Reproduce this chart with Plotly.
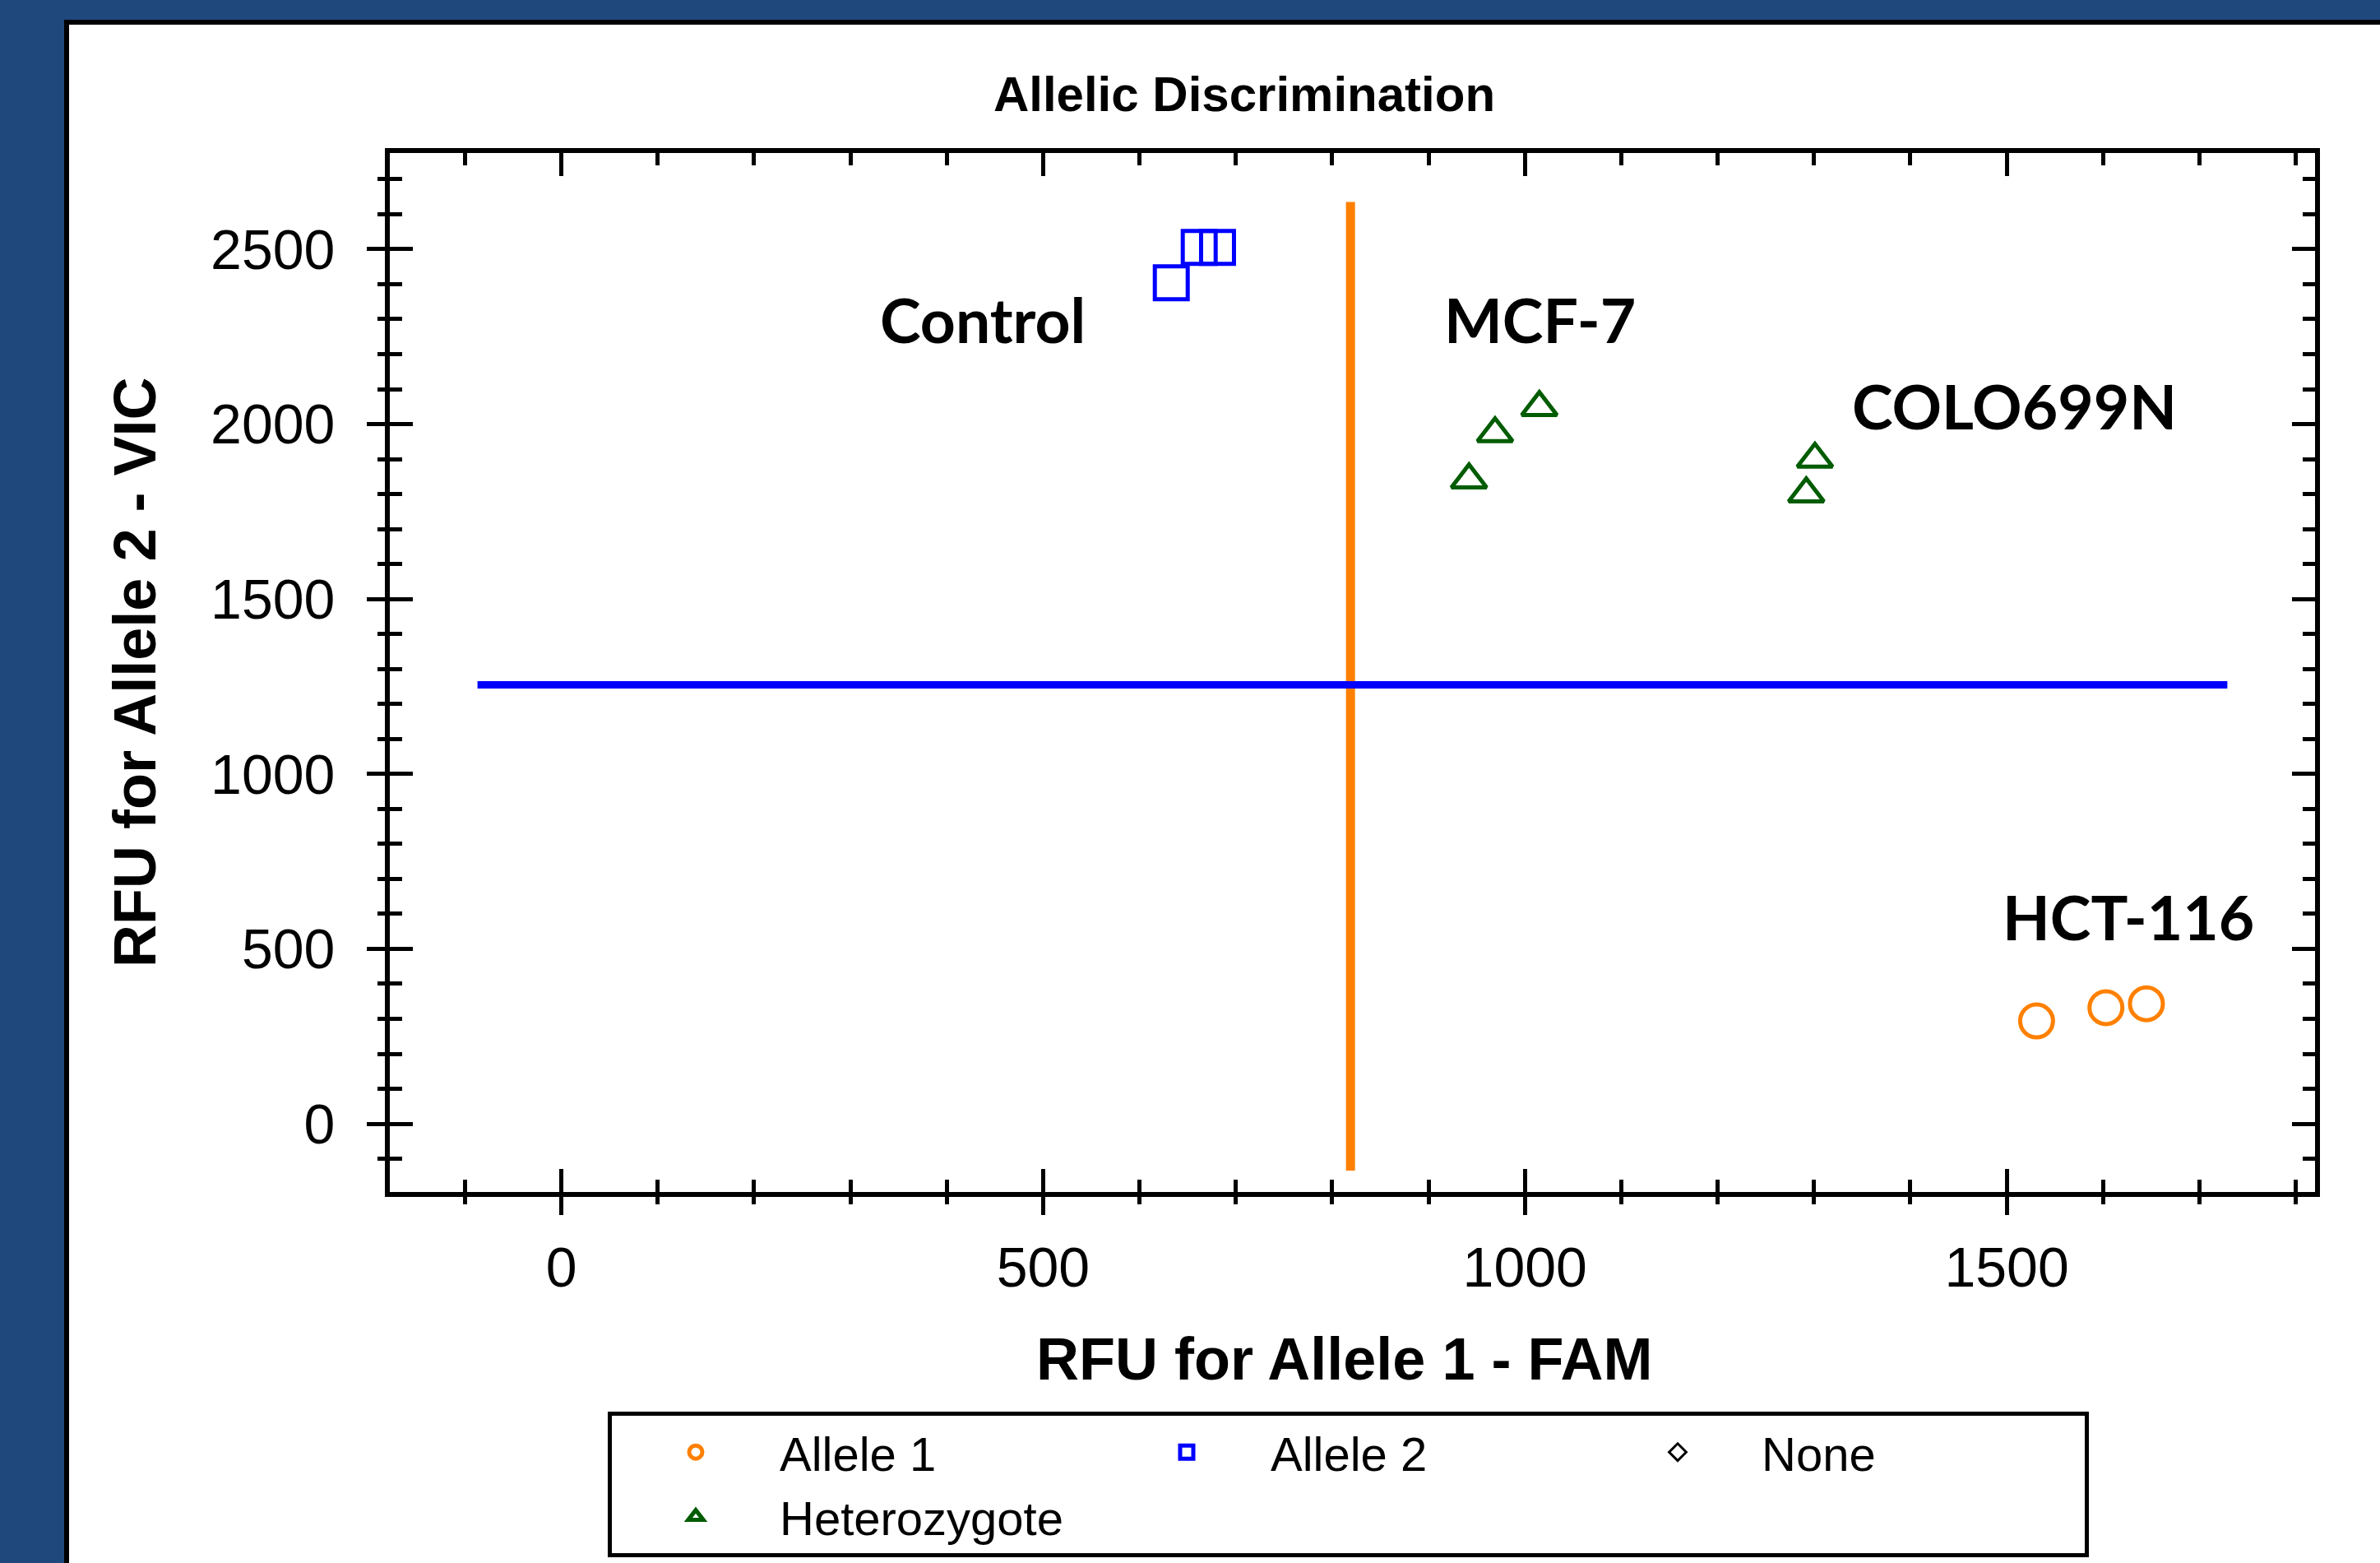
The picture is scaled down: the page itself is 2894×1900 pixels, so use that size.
import plotly.graph_objects as go

# ---------------- data ----------------
allele1_name = "Allele 1"          # HCT-116 (orange circles)
allele1_x = [1531, 1603, 1645]
allele1_y = [294, 332, 343]

allele2_name = "Allele 2"          # Control (blue squares)
allele2_x = [633, 662, 681]
allele2_y = [2404, 2505, 2505]

none_name = "None"

het_name = "Heterozygote"          # MCF-7 + COLO699N (green triangles)
het_x = [942, 969, 1015, 1292, 1301]
het_y = [1841, 1973, 2048, 1801, 1900]

fam_threshold_x = [819, 819]
fam_threshold_y = [-134, 2635]
vic_threshold_x = [-87, 1729]
vic_threshold_y = [1255, 1255]

cell_labels = ["Control", "MCF-7", "COLO699N", "HCT-116"]
cell_label_x = [437, 1016, 1508, 1626]
cell_label_y = [2300, 2300, 2052, 592]

x_range = [-178, 1820]
y_range = [-195, 2775]
major_dtick = 500
minor_dtick = 100

title_text = "Allelic Discrimination"
x_title = "RFU for Allele 1 - FAM"
y_title = "RFU for Allele 2 - VIC"

# ---------------- styles ----------------
W, H = 2894, 1900
L, R, T, B = 474, 2815, 186, 1449
PW, PH = R - L, B - T
BG_BLUE = "#1F497D"
ORANGE = "#FF8000"
BLUE = "#0000FF"
GREEN = "#005C00"
FONT = "Liberation Sans, Arial, sans-serif"


def px_x(px):
    return (px - L) / PW


def px_y(py):
    return (B - py) / PH


fig = go.Figure()

fig.add_trace(go.Scatter(x=fam_threshold_x, y=fam_threshold_y, mode="lines",
                         line=dict(color=ORANGE, width=11), showlegend=False, hoverinfo="skip"))
fig.add_trace(go.Scatter(x=vic_threshold_x, y=vic_threshold_y, mode="lines",
                         line=dict(color=BLUE, width=9), showlegend=False, hoverinfo="skip"))

fig.add_trace(go.Scatter(x=allele1_x, y=allele1_y, mode="markers", name=allele1_name,
                         marker=dict(symbol="circle-open", size=40, color=ORANGE,
                                     line=dict(width=5, color=ORANGE))))
fig.add_trace(go.Scatter(x=allele2_x, y=allele2_y, mode="markers", name=allele2_name,
                         marker=dict(symbol="square-open", size=40, color=BLUE,
                                     line=dict(width=5, color=BLUE))))
fig.add_trace(go.Scatter(x=[None], y=[None], mode="markers", name=none_name,
                         marker=dict(symbol="diamond-open", size=40, color="black",
                                     line=dict(width=3, color="black"))))
fig.add_trace(go.Scatter(x=het_x, y=het_y, mode="markers", name=het_name,
                         marker=dict(symbol="triangle-up-open", size=37, color=GREEN,
                                     line=dict(width=5, color=GREEN))))

# invisible traces so the overlay axes (outside ticks + labels) are drawn
fig.add_trace(go.Scatter(x=[None], y=[None], xaxis="x2", yaxis="y", showlegend=False,
                         hoverinfo="skip"))
fig.add_trace(go.Scatter(x=[None], y=[None], xaxis="x", yaxis="y2", showlegend=False,
                         hoverinfo="skip"))

annotations = []
for t, lx, ly in zip(cell_labels, cell_label_x, cell_label_y):
    annotations.append(dict(x=lx, y=ly, xref="x", yref="y", text=t, showarrow=False,
                            xanchor="center", yanchor="middle",
                            font=dict(family="Lato, Open Sans, sans-serif", size=75,
                                      weight="bold", color="black")))
annotations.append(dict(x=px_x(1634), y=px_y(1652), xref="paper", yref="paper",
                        text=x_title, showarrow=False, xanchor="center", yanchor="middle",
                        font=dict(family=FONT, size=72, weight="bold", color="black")))
annotations.append(dict(x=px_x(164), y=px_y(818), xref="paper", yref="paper",
                        text=y_title, showarrow=False, textangle=-90,
                        xanchor="center", yanchor="middle",
                        font=dict(family=FONT, size=72, weight="bold", color="black")))

shapes = [
    dict(type="rect", xref="paper", yref="paper", layer="below",
         x0=px_x(78), x1=px_x(3100), y0=px_y(24), y1=px_y(2100),
         fillcolor="black", line=dict(width=0)),
    dict(type="rect", xref="paper", yref="paper", layer="below",
         x0=px_x(84), x1=px_x(3100), y0=px_y(30), y1=px_y(2100),
         fillcolor="white", line=dict(width=0)),
]

tick_common = dict(tickcolor="black", tickwidth=5, showgrid=False, zeroline=False)
minor_in = dict(ticks="inside", ticklen=15, tickwidth=5, tickcolor="black",
                dtick=minor_dtick, tick0=0, showgrid=False)
minor_out = dict(ticks="outside", ticklen=14, tickwidth=5, tickcolor="black",
                 dtick=minor_dtick, tick0=0, showgrid=False)

fig.update_layout(
    width=W, height=H,
    paper_bgcolor=BG_BLUE, plot_bgcolor="white",
    margin=dict(l=L, r=W - R, t=T, b=H - B, autoexpand=False),
    title=dict(text=title_text, x=px_x(1513), xref="paper", xanchor="center",
               y=1 - 114 / H, yref="container", yanchor="middle",
               font=dict(family=FONT, size=60, weight="bold", color="black")),
    xaxis=dict(range=x_range, tickmode="linear", tick0=0, dtick=major_dtick,
               ticks="inside", ticklen=28, showticklabels=False,
               showline=True, linewidth=6, linecolor="black", mirror="ticks",
               minor=minor_in, **tick_common),
    xaxis2=dict(range=x_range, overlaying="x", anchor="y", side="bottom",
                tickmode="linear", tick0=0, dtick=major_dtick,
                ticks="outside", ticklen=27, showline=False,
                minor=minor_out, ticklabelstandoff=5,
                tickfont=dict(family=FONT, size=68, color="black"), **tick_common),
    yaxis=dict(range=y_range, tickmode="linear", tick0=0, dtick=major_dtick,
               ticks="inside", ticklen=28, showticklabels=False,
               showline=True, linewidth=6, linecolor="black", mirror="ticks",
               minor=minor_in, **tick_common),
    yaxis2=dict(range=y_range, overlaying="y", anchor="x", side="left",
                tickmode="linear", tick0=0, dtick=major_dtick,
                ticks="outside", ticklen=27, showline=False,
                minor=minor_out, ticklabelstandoff=25,
                tickfont=dict(family=FONT, size=68, color="black"), **tick_common),
    legend=dict(orientation="h", x=px_x(739), y=px_y(1716), xanchor="left", yanchor="top",
                bordercolor="black", borderwidth=5, bgcolor="white",
                font=dict(family=FONT, size=58, color="black"),
                itemwidth=194, entrywidth=388, traceorder="normal"),
    annotations=annotations,
    shapes=shapes,
    showlegend=True,
)

fig.write_html("out.html", config={"displayModeBar": False},
               post_script="document.body.style.margin='0px';document.body.style.overflow='hidden';")
